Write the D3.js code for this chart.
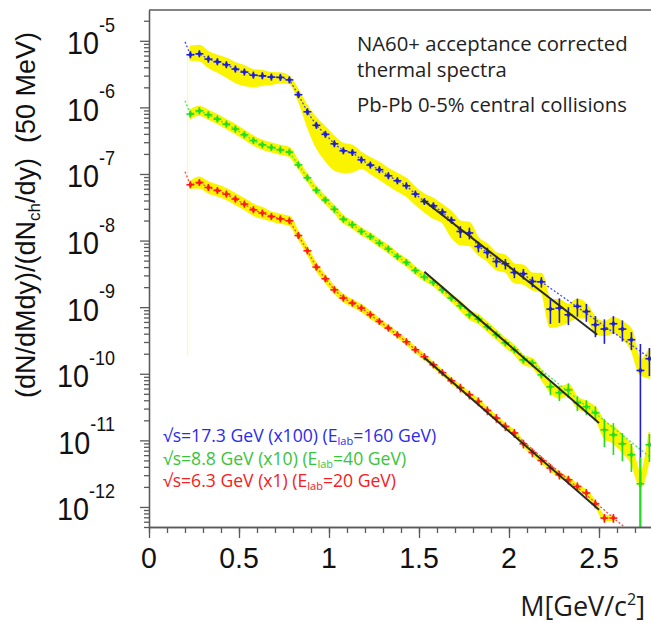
<!DOCTYPE html>
<html><head><meta charset="utf-8">
<script src="https://cdn.jsdelivr.net/npm/d3@7"></script>
<style>body{margin:0;background:#fff} svg{display:block}</style>
</head><body><svg id="c" width="651" height="623"></svg>
<script>
// ---------- data ----------
const massBins = [0.23,0.28,0.33,0.38,0.43,0.48,0.53,0.58,0.63,0.68,0.73,0.78,0.83,0.88,0.93,0.98,1.03,1.08,1.13,1.18,1.23,1.28,1.33,1.38,1.43,1.48,1.53,1.58,1.63,1.68,1.73,1.78,1.83,1.88,1.93,1.98,2.03,2.08,2.13,2.18,2.23,2.28,2.33,2.38,2.43,2.48,2.53,2.58,2.63,2.68,2.73,2.78];

const blueVals = [6.17e-6,6.38e-6,5.31e-6,4.84e-6,4.37e-6,3.76e-6,3.39e-6,3.05e-6,2.98e-6,2.85e-6,2.82e-6,2.59e-6,
 1.55e-6,8.59e-7,5.38e-7,3.94e-7,2.84e-7,2.23e-7,2.10e-7,1.63e-7,1.36e-7,1.16e-7,9.40e-8,7.91e-8,6.65e-8,4.99e-8,3.86e-8,3.33e-8,2.68e-8,2.03e-8,
 1.37e-8,1.30e-8,8.15e-9,6.62e-9,4.85e-9,4.49e-9,3.32e-9,3.18e-9,2.43e-9,2.40e-9,
 9.35e-10,9.68e-10,7.69e-10,1.03e-9,8.61e-10,5.45e-10,4.69e-10,5.64e-10,4.69e-10,3.24e-10,1.12e-10,1.68e-10];
const blueErr = [0.04,0.04,0.04,0.04,0.04,0.04,0.04,0.04,0.04,0.04,0.04,0.04,
 0.05,0.05,0.05,0.05,0.05,0.05,0.05,0.05,0.05,0.05,0.05,0.05,0.05,0.05,0.05,0.05,0.05,0.05,
 0.2,0.2,0.18,0.18,0.18,0.18,0.18,0.18,0.18,0.18,
 0.4,0.4,0.3,0.3,0.3,0.35,0.4,0.3,0.35,0.3,1.5,0.45];
const blueSysUp = [0.32,0.32,0.27,0.23,0.23,0.23,0.23,0.19,0.19,0.15,0.15,0.11,
 0.15,0.19,0.27,0.27,0.27,0.27,0.27,0.27,0.27,0.27,0.27,0.27,0.27,0.23,0.27,0.27,0.27,0.32,
 0.41,0.41,0.32,0.32,0.32,0.32,0.32,0.32,0.32,0.32,
 0.37,0.32,0.41,0.27,0.27,0.27,0.27,0.23,0.27,0.41,0.41,0.37];
const blueSysDn = [0.16,0.19,0.24,0.29,0.34,0.36,0.36,0.32,0.27,0.21,0.16,0.10,
 0.16,0.38,0.53,0.59,0.59,0.52,0.48,0.24,0.24,0.27,0.27,0.29,0.29,0.29,0.29,0.34,0.29,0.43,
 0.36,0.34,0.24,0.24,0.24,0.24,0.29,0.29,0.24,0.29,
 0.46,0.45,0.21,0.32,0.19,0.24,0.19,0.27,0.27,0.29,0.13,0.48];

const greenVals = [7.93e-7,8.89e-7,7.74e-7,6.67e-7,5.61e-7,4.72e-7,3.88e-7,3.18e-7,2.74e-7,2.50e-7,2.31e-7,2.13e-7,
 1.37e-7,8.77e-8,5.69e-8,4.06e-8,2.95e-8,2.09e-8,1.73e-8,1.37e-8,1.15e-8,9.16e-9,7.45e-9,5.77e-9,4.69e-9,3.56e-9,2.83e-9,2.35e-9,1.82e-9,1.37e-9,
 1.05e-9,7.69e-10,6.62e-10,5.08e-10,3.85e-10,2.92e-10,2.29e-10,1.62e-10,1.45e-10,9.66e-11,
 6.38e-11,5.19e-11,5.75e-11,3.67e-11,3.20e-11,2.59e-11,1.44e-11,1.21e-11,8.89e-12,6.08e-12,2.23e-12,8.59e-12];
const greenErr = [0.04,0.04,0.04,0.04,0.04,0.04,0.04,0.04,0.04,0.04,0.04,0.04,
 0.05,0.05,0.05,0.05,0.05,0.05,0.05,0.05,0.05,0.05,0.05,0.05,0.05,0.05,0.05,0.05,0.05,0.05,
 0.12,0.12,0.12,0.12,0.12,0.12,0.12,0.12,0.12,0.12,
 0.25,0.25,0.25,0.25,0.25,0.25,0.45,0.5,0.45,0.45,1.5,0.45];
const greenSysUp = [0.15,0.15,0.15,0.15,0.15,0.15,0.15,0.15,0.15,0.15,0.15,0.15,
 0.11,0.11,0.11,0.11,0.11,0.11,0.11,0.11,0.11,0.11,0.11,0.11,0.11,0.11,0.11,0.11,0.11,0.11,
 0.15,0.15,0.15,0.15,0.15,0.15,0.15,0.15,0.15,0.15,
 0.19,0.19,0.19,0.19,0.19,0.19,0.32,0.32,0.32,0.32,0.41,0.51];
const greenSysDn = [0.13,0.13,0.13,0.13,0.13,0.13,0.13,0.13,0.13,0.13,0.13,0.13,
 0.10,0.10,0.10,0.10,0.10,0.10,0.10,0.10,0.10,0.10,0.10,0.10,0.10,0.10,0.10,0.10,0.10,0.10,
 0.13,0.13,0.13,0.13,0.13,0.13,0.13,0.13,0.13,0.13,
 0.16,0.16,0.16,0.16,0.16,0.16,0.24,0.24,0.24,0.24,0.10,0.34];

const redVals = [6.89e-8,7.45e-8,6.27e-8,5.65e-8,4.99e-8,4.20e-8,3.53e-8,2.90e-8,2.59e-8,2.30e-8,2.12e-8,1.98e-8,
 1.19e-8,7.03e-9,4.00e-9,2.67e-9,1.82e-9,1.37e-9,1.15e-9,9.68e-10,7.69e-10,6.10e-10,4.85e-10,3.85e-10,3.02e-10,2.29e-10,1.80e-10,1.36e-10,1.04e-10,7.85e-11,
 6.17e-11,4.84e-11,3.84e-11,2.81e-11,2.16e-11,1.62e-11,1.29e-11,8.89e-12,6.58e-12,4.99e-12,3.84e-12,3.04e-12,2.56e-12,2.03e-12,1.62e-12,1.12e-12,6.81e-13,6.81e-13];
const redErr = [0.04,0.04,0.04,0.04,0.04,0.04,0.04,0.04,0.04,0.04,0.04,0.04,
 0.05,0.05,0.05,0.05,0.05,0.05,0.05,0.05,0.05,0.05,0.05,0.05,0.05,0.05,0.05,0.05,0.05,0.05,
 0.15,0.15,0.15,0.15,0.15,0.15,0.15,0.15,0.15,0.15,0.15,0.15,0.15,0.15,0.15,0.15,0.15,0.15];
const redSysUp = [0.11,0.19,0.19,0.19,0.19,0.19,0.19,0.19,0.19,0.15,0.15,0.15,
 0.11,0.11,0.11,0.11,0.11,0.11,0.11,0.11,0.11,
 0.07,0.07,0.07,0.07,0.07,0.07,0.07,0.07,0.07,0.07,0.07,0.07,0.07,0.07,0.07,0.07,0.07,0.07,0.07,0.07,0.07,0.07,0.07,0.07,0.07,0.07,0.07];
const redSysDn = [0.10,0.16,0.16,0.16,0.16,0.16,0.16,0.16,0.16,0.13,0.13,0.13,
 0.10,0.10,0.10,0.10,0.10,0.10,0.10,0.10,0.10,
 0.07,0.07,0.07,0.07,0.07,0.07,0.07,0.07,0.07,0.07,0.07,0.07,0.07,0.07,0.07,0.07,0.07,0.07,0.07,0.07,0.07,0.07,0.07,0.07,0.07,0.07,0.07];

// model (dotted) curves: start node, data followed up to index, end node
const blueModel  = {startM:0.20, startV:9.66e-6, lastIdx:39, endM:2.80, endV:1.6e-10};
const greenModel = {startM:0.20, startV:1.26e-6, lastIdx:29, endM:2.80, endV:5.14e-12};
const redModel   = {startM:0.20, startV:1.08e-7, lastIdx:29, endM:2.80, endV:2.16e-13};

// exponential fits (black lines)
const blueFitM = [1.52, 2.49],  blueFitV = [4.10e-8, 3.85e-10];
const greenFitM = [1.53, 2.50], greenFitV = [3.40e-9, 1.82e-11];
const redFitM = [1.53, 2.50],   redFitV = [1.74e-10, 9.08e-13];

// faint band-edge line
const edgeM = 0.215, edgeV = [6.2e-6, 1.9e-10];

const xTicksMajor = [0, 0.5, 1, 1.5, 2, 2.5];
const xTickLabels = ["0", "0.5", "1", "1.5", "2", "2.5"];
const yDecades = [-5, -6, -7, -8, -9, -10, -11, -12];

const legendLines = [
  {pre:"\u221As=17.3 GeV (x100) (E", sub:"lab", post:"=160 GeV)", color:"#2b2bf0"},
  {pre:"\u221As=8.8 GeV (x10) (E", sub:"lab", post:"=40 GeV)", color:"#3ac43a"},
  {pre:"\u221As=6.3 GeV (x1) (E", sub:"lab", post:"=20 GeV)", color:"#f52020"}
];
const infoLines = ["NA60+ acceptance corrected", "thermal spectra", "Pb-Pb 0-5% central collisions"];

// ---------- drawing ----------
const W = 651, H = 623;
const x = d3.scaleLinear().domain([0, 2.8]).range([149, 653]);
const y = d3.scaleLog().domain([5e-13, 2.9e-5]).range([527, 10]);
const yMin = 5e-13;
const svg = d3.select('#c');
const axisColor = '#5a5a5a';

svg.append('defs').append('clipPath').attr('id','clip')
  .append('rect').attr('x',149).attr('y',10).attr('width',W-149).attr('height',517);
const plot = svg.append('g').attr('clip-path','url(#clip)');

const series = [
  {vals:blueVals, err:blueErr, up:blueSysUp, dn:blueSysDn, color:'#1e1ed8', dot:'#4a4aff', model:blueModel, fitM:blueFitM, fitV:blueFitV},
  {vals:greenVals, err:greenErr, up:greenSysUp, dn:greenSysDn, color:'#22dd22', dot:'#3cf03c', model:greenModel, fitM:greenFitM, fitV:greenFitV},
  {vals:redVals, err:redErr, up:redSysUp, dn:redSysDn, color:'#ff1a1a', dot:'#ff4444', model:redModel, fitM:redFitM, fitV:redFitV}
];

plot.append('line').attr('x1',x(edgeM)).attr('x2',x(edgeM)).attr('y1',y(edgeV[0])).attr('y2',y(edgeV[1]))
  .attr('stroke','#fbf8b8').attr('stroke-width',1.2);

const band = d3.area().curve(d3.curveMonotoneX)
  .x(d => x(d.m)).y0(d => y(Math.max(d.v*(1-d.dn), yMin))).y1(d => y(d.v*(1+d.up)));
series.forEach(s => {
  const pts = s.vals.map((v,i) => ({m:massBins[i], v, up:s.up[i], dn:s.dn[i]}));
  plot.append('path').attr('d', band(pts)).attr('fill','#fbf400').attr('stroke','#fbf400').attr('stroke-width',2).attr('stroke-linejoin','round');
});

const line = d3.line().x(d => x(d.m)).y(d => y(d.v));
series.forEach(s => {
  const md = s.model;
  const pts = [{m:md.startM, v:md.startV}]
    .concat(s.vals.slice(0, md.lastIdx+1).map((v,i) => ({m:massBins[i], v})))
    .concat([{m:md.endM, v:md.endV}]);
  plot.append('path').attr('d', line(pts)).attr('fill','none')
    .attr('stroke', s.dot).attr('stroke-width',1.3).attr('stroke-dasharray','2,2');
});

series.forEach(s => {
  const g = plot.append('g').attr('stroke', s.color).attr('stroke-width',1.6);
  s.vals.forEach((v,i) => {
    const cx = x(massBins[i]), cy = y(v);
    const e = s.err[i];
    let yTop = y(v*(1+e));
    let yBot = (1-e) > 0 ? y(v*(1-e)) : y(yMin);
    yTop = Math.min(yTop, cy-3.5); yBot = Math.max(yBot, cy+3.5);
    g.append('line').attr('x1',cx).attr('x2',cx).attr('y1',yTop).attr('y2',yBot);
    g.append('line').attr('x1',x(massBins[i]-0.022)).attr('x2',x(massBins[i]+0.022)).attr('y1',cy).attr('y2',cy);
    g.append('path').attr('d', d3.symbol(d3.symbolDiamond, 14)()).attr('transform',`translate(${cx},${cy})`)
      .attr('fill', s.color).attr('stroke','none');
  });
});

series.forEach(s => {
  const pts = s.fitM.map((m,i) => ({m, v:s.fitV[i]}));
  plot.append('path').attr('d', line(pts)).attr('fill','none').attr('stroke','#2a2a2a').attr('stroke-width',2);
});

// ---- axes ----
const yMinor = [];
for (let e = -13; e <= -5; e++) for (let k = 2; k <= 9; k++) { const v = k*Math.pow(10,e); if (v>=5e-13 && v<=2.9e-5) yMinor.push(v); }
svg.append('g').attr('transform','translate(149,0)')
  .call(d3.axisLeft(y).tickValues(yMinor).tickSize(5).tickSizeOuter(0).tickFormat(''));
svg.append('g').attr('transform','translate(149,0)')
  .call(d3.axisLeft(y).tickValues(yDecades.map(e => Math.pow(10,e))).tickSize(9).tickSizeOuter(0).tickFormat(''));
const xMinor = d3.range(0, 28).map(i => i/10);
svg.append('g').attr('transform','translate(0,527)')
  .call(d3.axisBottom(x).tickValues(xMinor).tickSize(6).tickSizeOuter(0).tickFormat(''));
svg.append('g').attr('transform','translate(0,527)')
  .call(d3.axisBottom(x).tickValues(xTicksMajor).tickSize(11).tickSizeOuter(0).tickFormat(''));
svg.selectAll('.domain, .tick line').attr('stroke', axisColor).attr('stroke-width',1.3);
svg.append('line').attr('x1',149).attr('x2',W).attr('y1',10).attr('y2',10).attr('stroke',axisColor).attr('stroke-width',1.3);

const labelFont = '"Liberation Sans", Arial, Helvetica, sans-serif';
yDecades.forEach(e => {
  const ty = y(Math.pow(10,e));
  const t = svg.append('text').attr('transform',`translate(115,${ty+13.5}) scale(0.9,1)`)
    .attr('text-anchor','end').attr('font-family',labelFont).attr('fill','#111');
  t.append('tspan').attr('font-size',32).text('10');
  t.append('tspan').attr('font-size',20).attr('dy',-22.5).text(String(e));
});
xTicksMajor.forEach((m,i) => {
  svg.append('text').attr('transform',`translate(${x(m)},568) scale(0.95,1)`)
    .attr('text-anchor','middle').attr('font-family',labelFont).attr('font-size',30).attr('fill','#111')
    .text(xTickLabels[i]);
});

const yt = svg.append('text').attr('transform','translate(35,215) rotate(-90)')
  .attr('text-anchor','middle').attr('font-family',labelFont).attr('font-size',27).attr('fill','#111');
yt.append('tspan').text('(dN/dMdy)/(dN');
yt.append('tspan').attr('font-size',17).attr('dy',5).text('ch');
yt.append('tspan').attr('dy',-5).text('/dy)\u00a0\u00a0(50 MeV)');

const sansFont = '"Open Sans", "Noto Sans", sans-serif';
const xt = svg.append('text').attr('x',645).attr('y',616).attr('text-anchor','end')
  .attr('font-family',sansFont).attr('font-size',27).attr('fill','#1a1a1a');
xt.append('tspan').text('M[GeV/c');
xt.append('tspan').attr('font-size',16).attr('dy',-11).text('2');
xt.append('tspan').attr('dy',11).text(']');

const infoY = [51, 77, 112];
infoLines.forEach((s,i) => {
  svg.append('text').attr('x',357).attr('y',infoY[i]).attr('font-family',sansFont).attr('font-size',20.3)
    .attr('fill','#222').text(s);
});

const legY = [442, 465, 487];
legendLines.forEach((l,i) => {
  const t = svg.append('text').attr('x',163).attr('y',legY[i]).attr('font-family',sansFont)
    .attr('font-size',17.6).attr('fill',l.color);
  t.append('tspan').text(l.pre);
  t.append('tspan').attr('font-size',11).attr('dy',3).text(l.sub);
  t.append('tspan').attr('dy',-3).text(l.post);
});
</script>
</body></html>
